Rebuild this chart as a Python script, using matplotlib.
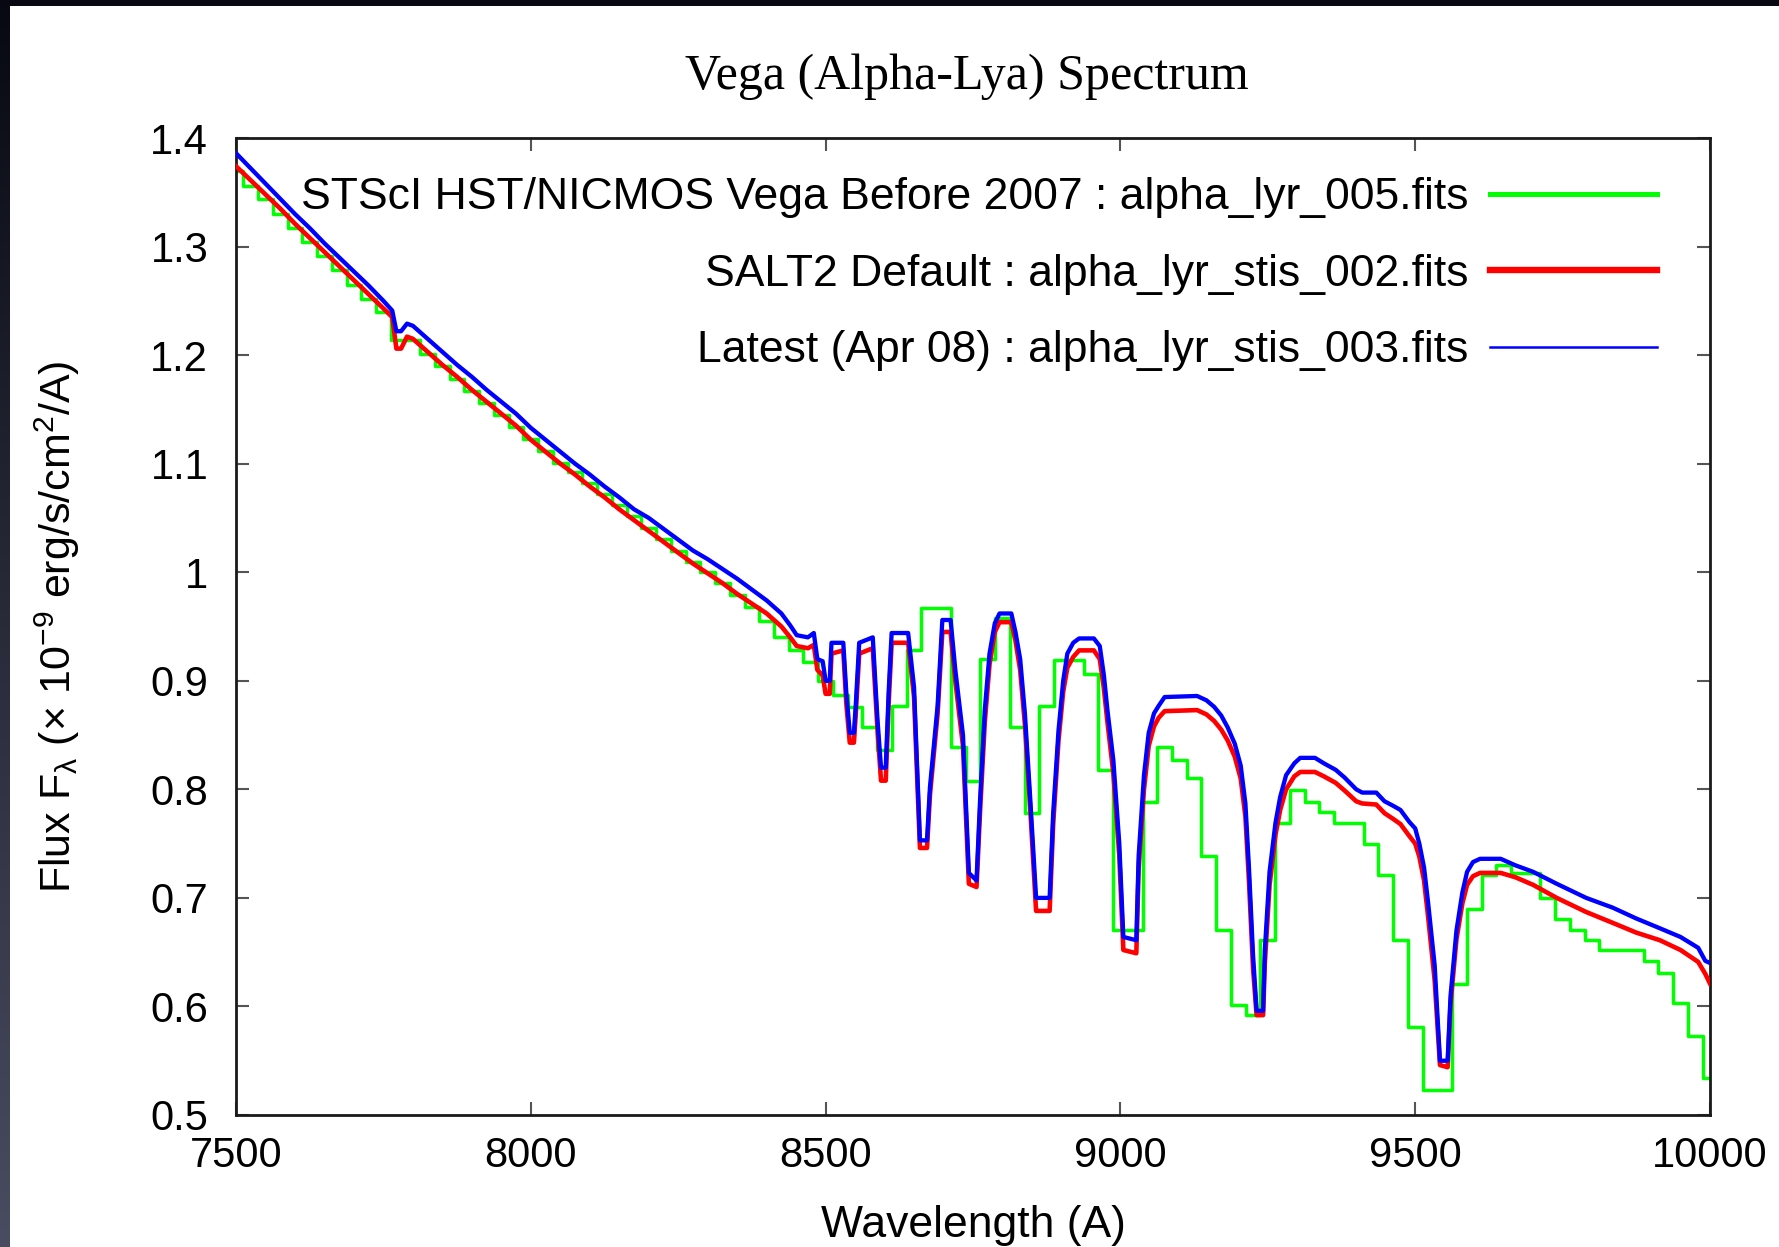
import numpy as np
import matplotlib
matplotlib.use("Agg")
import matplotlib.pyplot as plt

plt.rcParams['font.family'] = ['Liberation Sans', 'DejaVu Sans']
plt.rcParams['mathtext.fontset'] = 'custom'
plt.rcParams['mathtext.rm'] = 'Liberation Sans'
plt.rcParams['mathtext.it'] = 'Liberation Sans:italic'
plt.rcParams['mathtext.bf'] = 'Liberation Sans:bold'

# ---------------- data ----------------
# alpha_lyr_005 (coarse 25 A bins, centers)
green_wave = np.arange(7500, 10001, 25)
green_flux = [
    1.370, 1.356, 1.344, 1.330, 1.317, 1.304, 1.291, 1.278, 1.265, 1.252,
    1.240, 1.214, 1.214, 1.201, 1.190, 1.178, 1.167, 1.156, 1.145, 1.134,
    1.123, 1.112, 1.101, 1.092, 1.082, 1.072, 1.062, 1.052, 1.041, 1.031,
    1.020, 1.009, 1.000, 0.990, 0.979, 0.968, 0.955, 0.940, 0.928, 0.917,
    0.900, 0.887, 0.876, 0.857, 0.836, 0.877, 0.928, 0.967, 0.967, 0.839,
    0.808, 0.920, 0.958, 0.857, 0.778, 0.877, 0.919, 0.919, 0.906, 0.818,
    0.670, 0.670, 0.788, 0.839, 0.827, 0.810, 0.739, 0.670, 0.601, 0.592,
    0.661, 0.769, 0.799, 0.788, 0.779, 0.769, 0.769, 0.750, 0.721, 0.661,
    0.581, 0.523, 0.523, 0.621, 0.690, 0.721, 0.730, 0.723, 0.723, 0.700,
    0.681, 0.670, 0.661, 0.652, 0.652, 0.652, 0.642, 0.631, 0.603, 0.573,
    0.534,
]

# STIS spectra (alpha_lyr_stis_002 = red, alpha_lyr_stis_003 = blue)
stis_wave = [
    7500, 7525, 7550, 7575, 7600, 7625, 7650, 7675, 7700, 7725,
    7750, 7765, 7772, 7780, 7790, 7800, 7825, 7850, 7875, 7900,
    7925, 7950, 7975, 8000, 8025, 8050, 8075, 8100, 8125, 8150,
    8175, 8200, 8225, 8250, 8275, 8300, 8325, 8350, 8375, 8400,
    8425, 8440, 8451, 8470, 8480, 8486, 8495, 8500, 8507, 8510,
    8530, 8535, 8541, 8548, 8551, 8557, 8580, 8588, 8594, 8602,
    8607, 8612, 8640, 8650, 8660, 8672, 8677, 8690, 8698, 8712,
    8720, 8733, 8743, 8756, 8762, 8770, 8778, 8787, 8795, 8815,
    8822, 8830, 8838, 8847, 8857, 8880, 8886, 8895, 8903, 8910,
    8920, 8930, 8955, 8965, 8972, 8978, 8988, 8998, 9005, 9027,
    9031, 9040, 9048, 9057, 9065, 9075, 9130, 9146, 9159, 9171,
    9182, 9194, 9204, 9212, 9218, 9225, 9231, 9242, 9245, 9253,
    9263, 9271, 9281, 9295, 9305, 9330, 9345, 9365, 9380, 9400,
    9410, 9434, 9448, 9462, 9475, 9490, 9500, 9507, 9515, 9522,
    9533, 9542, 9555, 9560, 9570, 9580, 9588, 9598, 9610, 9645,
    9670, 9700, 9740, 9790, 9835, 9875, 9915, 9950, 9980, 9992,
    10000,
]
blue_flux = [
    1.386, 1.372, 1.358, 1.344, 1.330, 1.317, 1.303, 1.290, 1.277, 1.264,
    1.250, 1.241, 1.222, 1.222, 1.229, 1.227, 1.215, 1.203, 1.191, 1.180,
    1.168, 1.157, 1.146, 1.133, 1.122, 1.111, 1.100, 1.090, 1.079, 1.069,
    1.058, 1.050, 1.040, 1.030, 1.020, 1.012, 1.003, 0.994, 0.984, 0.974,
    0.962, 0.951, 0.942, 0.940, 0.944, 0.920, 0.918, 0.900, 0.900, 0.935,
    0.935, 0.890, 0.852, 0.852, 0.876, 0.935, 0.940, 0.864, 0.820, 0.820,
    0.890, 0.944, 0.944, 0.894, 0.753, 0.753, 0.802, 0.877, 0.956, 0.956,
    0.910, 0.850, 0.723, 0.716, 0.790, 0.873, 0.925, 0.953, 0.962, 0.962,
    0.945, 0.920, 0.870, 0.792, 0.700, 0.700, 0.778, 0.854, 0.900, 0.925,
    0.935, 0.939, 0.939, 0.932, 0.905, 0.873, 0.827, 0.751, 0.664, 0.661,
    0.739, 0.813, 0.852, 0.870, 0.877, 0.885, 0.886, 0.882, 0.876, 0.868,
    0.857, 0.842, 0.822, 0.787, 0.728, 0.647, 0.596, 0.596, 0.652, 0.724,
    0.769, 0.793, 0.813, 0.824, 0.829, 0.829, 0.824, 0.818, 0.811, 0.800,
    0.797, 0.797, 0.789, 0.785, 0.781, 0.770, 0.764, 0.750, 0.728, 0.695,
    0.638, 0.550, 0.550, 0.610, 0.670, 0.705, 0.724, 0.733, 0.736, 0.736,
    0.730, 0.724, 0.713, 0.700, 0.691, 0.681, 0.672, 0.664, 0.654, 0.642,
    0.640,
]
red_flux = [
    1.374, 1.361, 1.348, 1.335, 1.321, 1.308, 1.295, 1.282, 1.269, 1.256,
    1.243, 1.235, 1.206, 1.206, 1.217, 1.215, 1.203, 1.191, 1.180, 1.168,
    1.157, 1.146, 1.135, 1.122, 1.111, 1.100, 1.090, 1.079, 1.069, 1.058,
    1.048, 1.038, 1.028, 1.018, 1.008, 0.999, 0.990, 0.980, 0.971, 0.962,
    0.950, 0.940, 0.932, 0.930, 0.933, 0.910, 0.905, 0.888, 0.888, 0.925,
    0.928, 0.880, 0.843, 0.843, 0.868, 0.925, 0.930, 0.855, 0.808, 0.808,
    0.880, 0.935, 0.935, 0.885, 0.746, 0.746, 0.795, 0.870, 0.945, 0.945,
    0.900, 0.840, 0.713, 0.710, 0.780, 0.862, 0.915, 0.945, 0.954, 0.954,
    0.937, 0.910, 0.860, 0.783, 0.688, 0.688, 0.768, 0.845, 0.890, 0.912,
    0.922, 0.928, 0.928, 0.920, 0.893, 0.862, 0.815, 0.740, 0.652, 0.649,
    0.728, 0.800, 0.840, 0.858, 0.866, 0.872, 0.873, 0.869, 0.863, 0.855,
    0.845, 0.830, 0.810, 0.775, 0.716, 0.635, 0.592, 0.592, 0.640, 0.712,
    0.758, 0.781, 0.800, 0.812, 0.816, 0.816, 0.812, 0.806, 0.799, 0.789,
    0.787, 0.786, 0.778, 0.773, 0.768, 0.757, 0.750, 0.738, 0.716, 0.682,
    0.624, 0.546, 0.544, 0.603, 0.662, 0.695, 0.712, 0.720, 0.723, 0.723,
    0.719, 0.712, 0.700, 0.687, 0.677, 0.668, 0.661, 0.652, 0.641, 0.630,
    0.621,
]

series_labels = [
    "STScI HST/NICMOS Vega Before 2007 : alpha_lyr_005.fits",
    "SALT2 Default : alpha_lyr_stis_002.fits",
    "Latest (Apr 08) : alpha_lyr_stis_003.fits",
]
x_ticks = [7500, 8000, 8500, 9000, 9500, 10000]
y_ticks = [0.5, 0.6, 0.7, 0.8, 0.9, 1.0, 1.1, 1.2, 1.3, 1.4]
y_tick_labels = ["0.5", "0.6", "0.7", "0.8", "0.9", "1", "1.1", "1.2", "1.3", "1.4"]

# ---------------- figure ----------------
W, H = 1779, 1247
fig = plt.figure(figsize=(W / 100, H / 100), dpi=100)
fig.patch.set_facecolor("white")

# dark border strips (slide background)
top_c = np.array([0.03, 0.035, 0.07])
bot_c = np.array([0.29, 0.30, 0.38])
t = np.linspace(0, 1, H)[:, None]
left_strip = np.zeros((H, 10, 3))
left_strip[:] = (top_c * (1 - t) + bot_c * t)[:, None, :]
fig.figimage(left_strip, xo=0, yo=0, origin="upper", zorder=10)
top_strip = np.tile(top_c, (6, W, 1))
fig.figimage(top_strip, xo=0, yo=H - 6, origin="upper", zorder=10)

ax = fig.add_axes([236 / W, 1 - 1115 / H, (1710 - 236) / W, (1115 - 138) / H])
ax.plot(green_wave, green_flux, drawstyle="steps-mid", color="#00ff00",
        lw=2.5, label=series_labels[0], zorder=2)
ax.plot(stis_wave, red_flux, color="#ff0000", lw=3.3,
        label=series_labels[1], zorder=3)
ax.plot(stis_wave, blue_flux, color="#0000ff", lw=3.1,
        label=series_labels[2], zorder=4)

ax.set_xlim(7500, 10000)
ax.set_ylim(0.5, 1.4)
ax.set_xticks(x_ticks)
ax.set_yticks(y_ticks)
ax.set_yticklabels(y_tick_labels)
ax.tick_params(direction="in", length=9.5, width=1.5, color="#555555",
               top=True, right=True, labelsize=30)
ax.tick_params(axis="x", pad=15)
ax.tick_params(axis="y", pad=20)
for s in ax.spines.values():
    s.set_linewidth(2)
    s.set_color("#1a1a1a")

leg = ax.legend(loc="upper right", bbox_to_anchor=(0.964, 0.960),
                markerfirst=False, frameon=False, fontsize=32,
                handlelength=3.75, handletextpad=0.5, labelspacing=0.80,
                borderpad=0, borderaxespad=0)
for ln, lw in zip(leg.get_lines(), [3.6, 4.6, 1.8]):
    ln.set_linewidth(lw)

fig.text(967 / W, 1 - 77 / H, "Vega (Alpha-Lya) Spectrum",
         family=["Liberation Serif", "DejaVu Serif"], fontsize=36,
         ha="center", va="center")
fig.text(973 / W, 1 - 1226 / H, "Wavelength (A)", fontsize=32,
         ha="center", va="center")
fig.text(57 / W, 1 - 627 / H,
         r"Flux F$_{\mathrm{λ}}$ (× 10$^{-9}$ erg/s/cm$^{2}$/A)",
         fontsize=31, rotation=90, ha="center", va="center")

fig.savefig("out.png", dpi=100)
